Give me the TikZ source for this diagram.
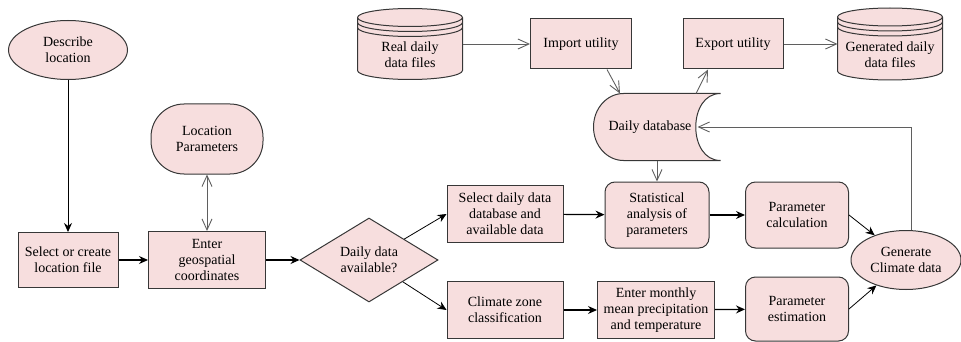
\documentclass[tikz,border=0pt]{standalone}
\usepackage{fontspec}
\setmainfont{Liberation Serif}
\newfontfamily\diagfont{Liberation Serif}
\usetikzlibrary{positioning, shapes.geometric, arrows.meta, backgrounds, calc}

\definecolor{boxpink}{RGB}{247,222,222}
\definecolor{boxline}{RGB}{55,55,55}
\definecolor{flowgray}{RGB}{95,95,95}

\begin{document}
\begin{tikzpicture}[
    x=1pt, y=-1pt,
    font=\diagfont\fontsize{14}{16}\selectfont,
    block/.style={rectangle, draw=boxline, fill=boxpink, line width=1pt, inner sep=1pt, align=center},
    rblock/.style={block, rounded corners=10pt},
    oval/.style={ellipse, draw=boxline, fill=boxpink, line width=1pt, inner sep=0pt, align=center},
    decision/.style={diamond, draw=boxline, fill=boxpink, line width=1pt, inner sep=0pt, align=center},
    store/.style={rectangle, inner sep=0pt, outer sep=0pt, align=center},
    storeline/.style={draw=boxline, fill=boxpink, line width=1pt},
    line/.style={draw, line width=1.2pt, -{Stealth[length=9pt, width=8pt, inset=3pt]}},
    thinline/.style={line, line width=0.8pt},
    flow/.style={draw=flowgray, line width=0.9pt, -{Straight Barb[length=11pt, width=10pt]}},
    bothflow/.style={flow, {Straight Barb[length=11pt, width=10pt]}-{Straight Barb[length=11pt, width=10pt]}}
    ]
    \useasboundingbox (0,0) rectangle (961,342);

    % left part
    \node[oval, minimum width=119pt, minimum height=59pt] (descr) at (68,50) {Describe\\location};
    \node[block, minimum width=100pt, minimum height=55pt] (selloc) at (68,260) {Select or create\\location file};
    \node[block, rounded corners=33pt, minimum width=112pt, minimum height=70pt] (locpar) at (207,139) {Location\\Parameters};
    \node[block, minimum width=117pt, minimum height=57pt] (geo) at (207,260) {Enter\\geospatial\\coordinates};
    \node[decision, minimum width=138pt, minimum height=84pt] (avail) at (369,260) {Daily data\\available?};

    % middle rows
    \node[block, minimum width=116pt, minimum height=57pt] (seldb) at (505,214) {Select daily data\\database and\\available data};
    \node[block, minimum width=116pt, minimum height=57pt] (clim) at (505,310) {Climate zone\\classification};
    \node[rblock, minimum width=104pt, minimum height=66pt] (stat) at (657,215) {Statistical\\analysis of\\parameters};
    \node[block, minimum width=117pt, minimum height=57pt] (mon) at (656,310) {Enter monthly\\mean precipitation\\and temperature};
    \node[rblock, minimum width=103pt, minimum height=66pt] (calc) at (797,215) {Parameter\\calculation};
    \node[rblock, minimum width=103pt, minimum height=64pt] (est) at (797,309) {Parameter\\estimation};
    \node[oval, minimum width=110pt, minimum height=59pt] (gen) at (906,260) {Generate\\Climate data};

    % data files and database
    \node[store, minimum width=105pt, minimum height=71pt] (real) at (410,44) {};
    \draw[storeline] ([yshift=-9pt]real.north west) -- ([yshift=9pt]real.south west) arc[start angle=180, end angle=360, x radius=52.5pt, y radius=9pt] -- ([yshift=-9pt]real.north east) arc[start angle=0, end angle=180, x radius=52.5pt, y radius=9pt] -- cycle;
    \draw[storeline, fill=none] ([yshift=-9pt]real.north west) arc[start angle=180, end angle=360, x radius=52.5pt, y radius=9pt];
    \draw[storeline, fill=none] ([yshift=-14pt]real.north west) arc[start angle=180, end angle=360, x radius=52.5pt, y radius=9pt];
    \draw[storeline, fill=none] ([yshift=-19pt]real.north west) arc[start angle=180, end angle=360, x radius=52.5pt, y radius=9pt];
    \node[store] (realtxt) at ([yshift=-11pt]real) {Real daily\\data files};

    \node[block, minimum width=101pt, minimum height=50pt] (imp) at (581,44) {Import utility};
    \node[block, minimum width=100pt, minimum height=50pt] (exp) at (733,44) {Export utility};

    \node[store, minimum width=105pt, minimum height=72pt] (gdf) at (890,44) {};
    \draw[storeline] ([yshift=-9pt]gdf.north west) -- ([yshift=9pt]gdf.south west) arc[start angle=180, end angle=360, x radius=52.5pt, y radius=9pt] -- ([yshift=-9pt]gdf.north east) arc[start angle=0, end angle=180, x radius=52.5pt, y radius=9pt] -- cycle;
    \draw[storeline, fill=none] ([yshift=-9pt]gdf.north west) arc[start angle=180, end angle=360, x radius=52.5pt, y radius=9pt];
    \draw[storeline, fill=none] ([yshift=-14pt]gdf.north west) arc[start angle=180, end angle=360, x radius=52.5pt, y radius=9pt];
    \draw[storeline, fill=none] ([yshift=-19pt]gdf.north west) arc[start angle=180, end angle=360, x radius=52.5pt, y radius=9pt];
    \node[store] (gdftxt) at ([yshift=-11pt]gdf) {Generated daily\\data files};

    \node[store, minimum width=127pt, minimum height=67pt] (db) at (657,127) {Daily database\hspace*{14pt}};
    \begin{scope}[on background layer]
      \draw[storeline] (db.north east) -- ([xshift=30pt]db.north west) arc[start angle=90, end angle=270, x radius=30pt, y radius=33.5pt] -- (db.south east) .. controls ([xshift=-33pt]db.south east) and ([xshift=-33pt]db.north east) .. (db.north east) -- cycle;
    \end{scope}

    % connectors
    \draw[thinline] (descr) -- (selloc);
    \draw[line] (selloc) -- (geo);
    \draw[bothflow] (locpar) -- (geo);
    \draw[line] (geo) -- (avail);
    \draw[thinline] (avail) -- (seldb.west);
    \draw[thinline] (avail) -- (clim.west);
    \draw[line] (seldb) -- (stat);
    \draw[line] (clim) -- (mon);
    \draw[line] (stat) -- (calc);
    \draw[line] (mon) -- (est);
    \draw[thinline] (calc.east) -- (gen);
    \draw[thinline] (est.east) -- (gen);

    \draw[flow] (real) -- (imp);
    \draw[flow] ([xshift=26pt]imp.south) -- ([xshift=-37pt]db.north);
    \draw[flow] ([xshift=39pt]db.north) -- ([xshift=-25pt]exp.south);
    \draw[flow] (exp) -- (gdf);
    \draw[flow] (db) -- (stat);
    \draw[flow] ([xshift=5pt]gen.north) |- ([xshift=-23pt]db.east);

\end{tikzpicture}
\end{document}
